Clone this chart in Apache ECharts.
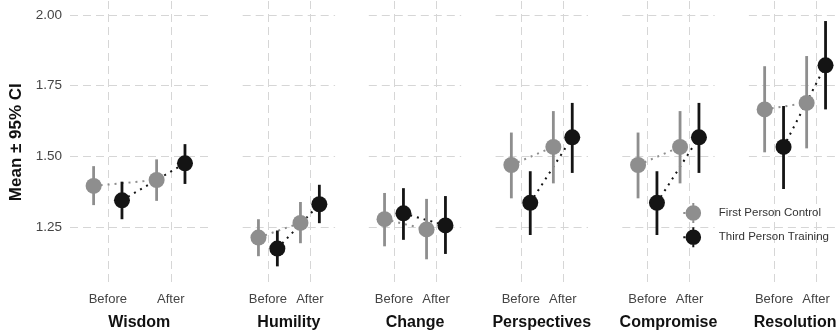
<!DOCTYPE html>
<html>
<head>
<meta charset="utf-8">
<script src="https://cdn.jsdelivr.net/npm/echarts@6/dist/echarts.min.js"></script>
<style>
  html, body { margin: 0; padding: 0; background: #ffffff; }
  #chart { width: 836px; height: 330px; }
</style>
</head>
<body>
<div id="chart"></div>
<script>
// Outcome measures (one panel each), groups and time points
const facets = ['Wisdom', 'Humility', 'Change', 'Perspectives', 'Compromise', 'Resolution'];
const groups = ['First Person Control', 'Third Person Training'];
const times = ['Before', 'After'];
const yTicks = [1.25, 1.5, 1.75, 2.0];

// Means and 95% CI bounds per panel, as [Before, After]
const controlMean  = [[1.395, 1.416], [1.212, 1.264], [1.277, 1.241], [1.469, 1.533], [1.469, 1.533], [1.666, 1.689]];
const controlLow   = [[1.327, 1.342], [1.146, 1.192], [1.181, 1.135], [1.351, 1.404], [1.351, 1.404], [1.514, 1.528]];
const controlHigh  = [[1.465, 1.489], [1.277, 1.338], [1.370, 1.349], [1.584, 1.660], [1.584, 1.660], [1.819, 1.855]];
const trainingMean = [[1.344, 1.475], [1.173, 1.330], [1.298, 1.255], [1.335, 1.567], [1.335, 1.567], [1.533, 1.822]];
const trainingLow  = [[1.277, 1.402], [1.110, 1.263], [1.204, 1.154], [1.221, 1.441], [1.221, 1.441], [1.384, 1.666]];
const trainingHigh = [[1.410, 1.543], [1.237, 1.399], [1.387, 1.359], [1.447, 1.689], [1.447, 1.689], [1.678, 1.979]];

const GRAY = '#8e8e8e';
const BLACK = '#141414';
const GRID_LINE = '#d6d6d6';
const FONT = 'Liberation Sans, Arial, Helvetica, sans-serif';
const DODGE = 0.225;

// Legend key: point with its CI segment and a stub of the dotted connector
const KEY_ICON = 'path://M4,9h2v2h-2Z M13,0h2v20h-2Z M14,2.2A7.8,7.8,0,1,1,14,17.8A7.8,7.8,0,1,1,14,2.2Z';

// Panel geometry: first panel is wider, the rest share one width
const panelLeft  = [70, 242.7, 368.8, 495.6, 622.3, 748.9];
const panelWidth = [138.6, 92.4, 92.4, 92.4, 92.4, 92.4];
const panelTop = 1;
const panelHeight = 282.3;

const chart = echarts.init(document.getElementById('chart'), null, { renderer: 'canvas' });

const grids = [], xAxes = [], yAxes = [], series = [];

function errorBarRenderer(color) {
  return function (params, api) {
    const p1 = api.coord([api.value(0), api.value(1)]);
    const p2 = api.coord([api.value(0), api.value(2)]);
    return {
      type: 'line',
      shape: { x1: p1[0], y1: p1[1], x2: p2[0], y2: p2[1] },
      style: { stroke: color, lineWidth: 2.8 }
    };
  };
}

facets.forEach((facet, i) => {
  grids.push({
    left: panelLeft[i], top: panelTop, width: panelWidth[i], height: panelHeight,
    containLabel: false, outerBoundsMode: 'none'
  });

  xAxes.push({
    gridIndex: i, type: 'value', min: 0.4, max: 2.6,
    name: facet, nameLocation: 'middle', nameGap: 31,
    nameTextStyle: { fontFamily: FONT, fontSize: 16, fontWeight: 'bold', color: '#111111' },
    axisLine: { show: false },
    axisTick: { show: false, customValues: [1, 2] },
    axisLabel: {
      customValues: [1, 2], margin: 10,
      formatter: v => times[Math.round(v) - 1],
      fontFamily: FONT, fontSize: 13, color: '#444444'
    },
    splitLine: { show: true, lineStyle: { color: GRID_LINE, width: 1, type: [8, 5] } }
  });

  yAxes.push({
    gridIndex: i, type: 'value', min: 1.05, max: 2.05,
    name: i === 0 ? 'Mean \u00b1 95% CI' : '',
    nameLocation: 'middle', nameGap: 45,
    nameTextStyle: { fontFamily: FONT, fontSize: 17, fontWeight: 'bold', color: '#111111' },
    axisLine: { show: false },
    axisTick: { show: false, customValues: yTicks },
    axisLabel: {
      show: i === 0, customValues: yTicks, margin: 8,
      formatter: v => v.toFixed(2),
      fontFamily: FONT, fontSize: 13.5, color: '#444444'
    },
    splitLine: { show: true, lineStyle: { color: GRID_LINE, width: 1, type: [8, 5] } }
  });

  const sets = [
    { name: groups[0], color: GRAY, off: -DODGE, mean: controlMean[i], low: controlLow[i], high: controlHigh[i] },
    { name: groups[1], color: BLACK, off: DODGE, mean: trainingMean[i], low: trainingLow[i], high: trainingHigh[i] }
  ];

  // dotted connectors between Before and After
  sets.forEach(s => {
    series.push({
      type: 'line', xAxisIndex: i, yAxisIndex: i, silent: true, z: 1,
      symbol: 'none', animation: false,
      lineStyle: { color: s.color, width: 2, type: [2, 5] },
      data: [[1 + s.off, s.mean[0]], [2 + s.off, s.mean[1]]]
    });
  });

  // CI segments and mean points
  sets.forEach((s, k) => {
    series.push({
      type: 'custom', xAxisIndex: i, yAxisIndex: i, silent: true, z: 2 + k * 2,
      animation: false,
      renderItem: errorBarRenderer(s.color),
      data: [[1 + s.off, s.low[0], s.high[0]], [2 + s.off, s.low[1], s.high[1]]]
    });
    series.push({
      name: s.name, type: 'scatter', xAxisIndex: i, yAxisIndex: i, silent: true, z: 3 + k * 2,
      animation: false, symbol: 'circle', symbolSize: 16,
      itemStyle: { color: s.color, opacity: 1 },
      data: [[1 + s.off, s.mean[0]], [2 + s.off, s.mean[1]]]
    });
  });
});

chart.setOption({
  backgroundColor: '#ffffff',
  animation: false,
  grid: grids,
  xAxis: xAxes,
  yAxis: yAxes,
  legend: {
    data: groups.map(g => ({ name: g, icon: KEY_ICON })),
    orient: 'vertical', left: 678.3, top: 198,
    itemWidth: 17.8, itemHeight: 20, itemGap: 4.2,
    selectedMode: false,
    textStyle: { fontFamily: FONT, fontSize: 11.5, color: '#333333', padding: [0, 0, 0, 12.7] }
  },
  series: series
});
</script>
</body>
</html>
